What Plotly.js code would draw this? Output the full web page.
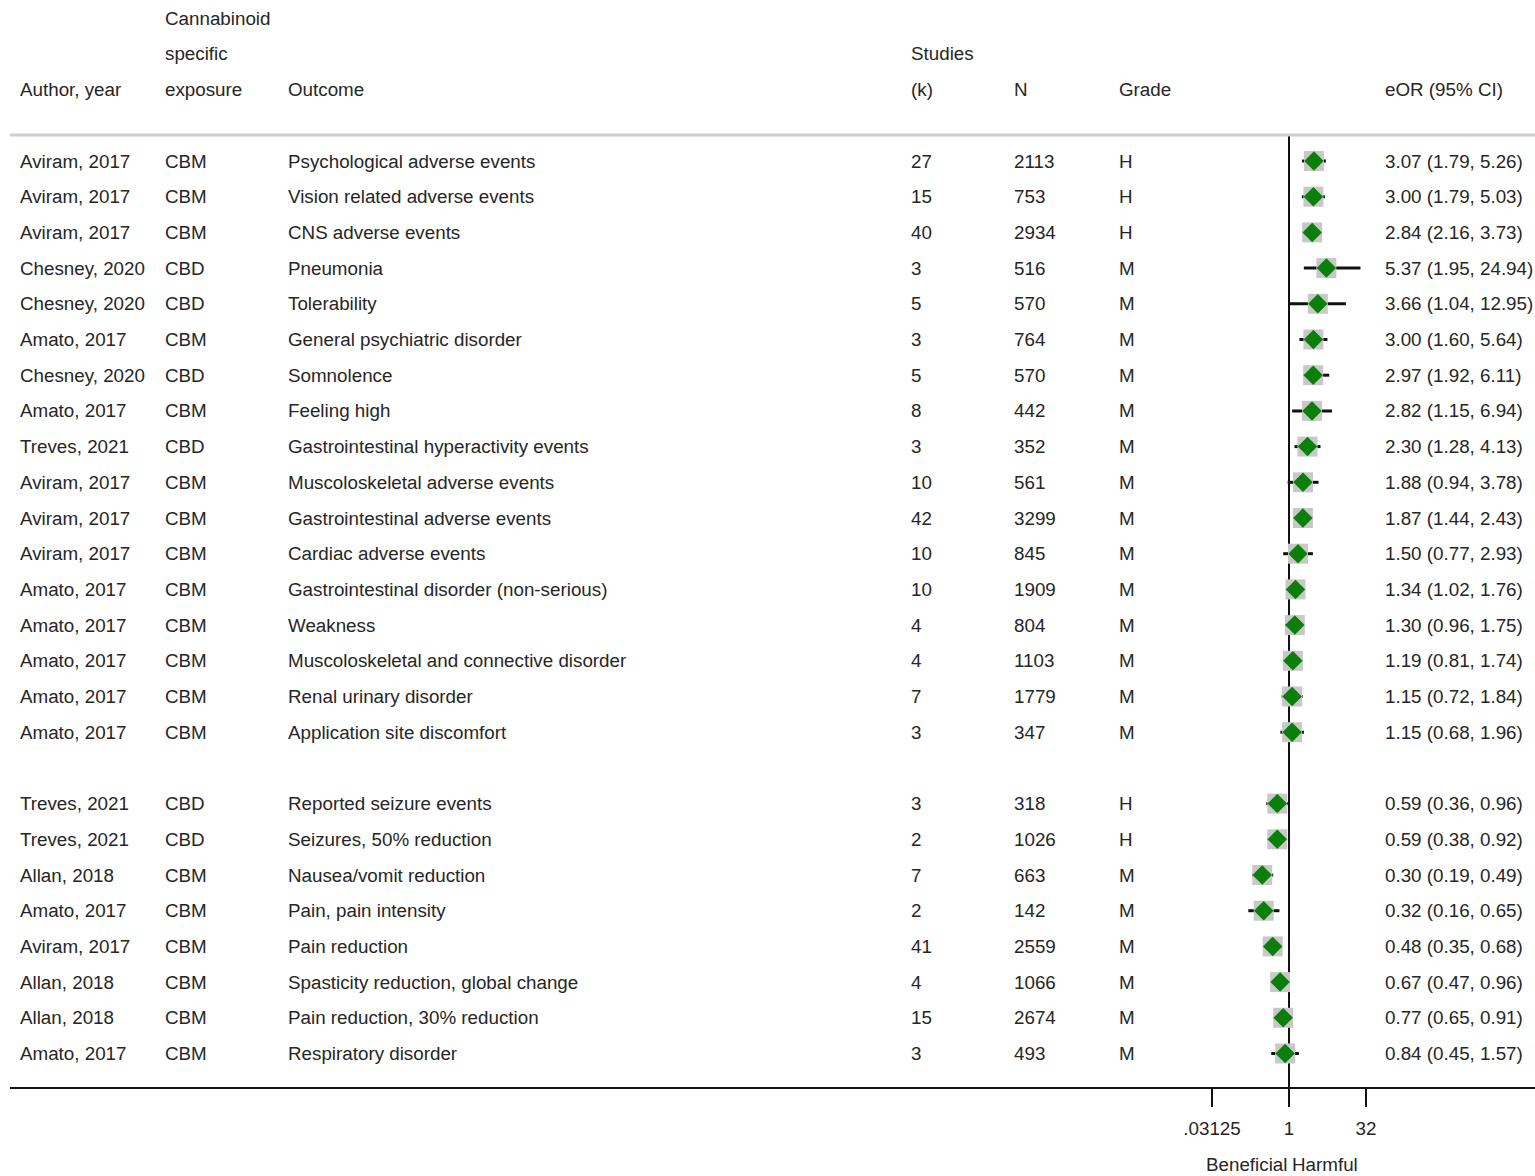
<!DOCTYPE html>
<html>
<head>
<meta charset="utf-8">
<script src="https://cdn.plot.ly/plotly-3.0.1.min.js"></script>
<style>
html,body{margin:0;padding:0;background:#fff;}
#chart{width:1535px;height:1176px;}
</style>
</head>
<body>
<div id="chart"></div>
<script>
// ---- data ----
const authors = ["Aviram, 2017","Aviram, 2017","Aviram, 2017","Chesney, 2020","Chesney, 2020","Amato, 2017","Chesney, 2020","Amato, 2017","Treves, 2021","Aviram, 2017","Aviram, 2017","Aviram, 2017","Amato, 2017","Amato, 2017","Amato, 2017","Amato, 2017","Amato, 2017",
  "Treves, 2021","Treves, 2021","Allan, 2018","Amato, 2017","Aviram, 2017","Allan, 2018","Allan, 2018","Amato, 2017"];
const exposures = ["CBM","CBM","CBM","CBD","CBD","CBM","CBD","CBM","CBD","CBM","CBM","CBM","CBM","CBM","CBM","CBM","CBM",
  "CBD","CBD","CBM","CBM","CBM","CBM","CBM","CBM"];
const outcomes = ["Psychological adverse events","Vision related adverse events","CNS adverse events","Pneumonia","Tolerability","General psychiatric disorder","Somnolence","Feeling high","Gastrointestinal hyperactivity events","Muscoloskeletal adverse events","Gastrointestinal adverse events","Cardiac adverse events","Gastrointestinal disorder (non-serious)","Weakness","Muscoloskeletal and connective disorder","Renal urinary disorder","Application site discomfort",
  "Reported seizure events","Seizures, 50% reduction","Nausea/vomit reduction","Pain, pain intensity","Pain reduction","Spasticity reduction, global change","Pain reduction, 30% reduction","Respiratory disorder"];
const studiesK = [27,15,40,3,5,3,5,8,3,10,42,10,10,4,4,7,3, 3,2,7,2,41,4,15,3];
const sampleN = [2113,753,2934,516,570,764,570,442,352,561,3299,845,1909,804,1103,1779,347, 318,1026,663,142,2559,1066,2674,493];
const grades = ["H","H","H","M","M","M","M","M","M","M","M","M","M","M","M","M","M", "H","H","M","M","M","M","M","M"];
const eOR   = [3.07,3.00,2.84,5.37,3.66,3.00,2.97,2.82,2.30,1.88,1.87,1.50,1.34,1.30,1.19,1.15,1.15, 0.59,0.59,0.30,0.32,0.48,0.67,0.77,0.84];
const ciLow = [1.79,1.79,2.16,1.95,1.04,1.60,1.92,1.15,1.28,0.94,1.44,0.77,1.02,0.96,0.81,0.72,0.68, 0.36,0.38,0.19,0.16,0.35,0.47,0.65,0.45];
const ciHigh= [5.26,5.03,3.73,24.94,12.95,5.64,6.11,6.94,4.13,3.78,2.43,2.93,1.76,1.75,1.74,1.84,1.96, 0.96,0.92,0.49,0.65,0.68,0.96,0.91,1.57];
const groupSizes = [17, 8];   // harmful block, beneficial block (blank row between)
const tickValues = [0.03125, 1, 32];
const tickLabels = [".03125", "1", "32"];
const nullValue = 1;

// ---- layout helpers ----
const W = 1535, H = 1176;
const font = "Liberation Sans, Arial, sans-serif";
const txtColor = "#262626";
const fs = 18.8;
const px = v => v / W;

// row slots (blank slot between groups)
const slots = [];
{ let s = 0; groupSizes.forEach((g, gi) => { for (let i = 0; i < g; i++) slots.push(s++); s++; }); }
const lastSlot = slots[slots.length - 1];
const topRule = -0.73, axisSlot = lastSlot + 0.97;

const fmt = v => v.toFixed(2);
const eorText = eOR.map((v, i) => fmt(v) + " (" + fmt(ciLow[i]) + ", " + fmt(ciHigh[i]) + ")");

const cols = [
  {x: 20,   vals: authors},
  {x: 165,  vals: exposures},
  {x: 288,  vals: outcomes},
  {x: 911,  vals: studiesK.map(String)},
  {x: 1014, vals: sampleN.map(String)},
  {x: 1119, vals: grades},
  {x: 1385, vals: eorText}
];
const headers = [
  {x: 20,   y: -2, t: "Author, year"},
  {x: 165,  y: -4, t: "Cannabinoid"},
  {x: 165,  y: -3, t: "specific"},
  {x: 165,  y: -2, t: "exposure"},
  {x: 288,  y: -2, t: "Outcome"},
  {x: 911,  y: -3, t: "Studies"},
  {x: 911,  y: -2, t: "(k)"},
  {x: 1014, y: -2, t: "N"},
  {x: 1119, y: -2, t: "Grade"},
  {x: 1385, y: -2, t: "eOR (95% CI)"}
];

const annotations = [];
const ann = (x, y, t, anchor) => ({
  xref: "paper", yref: "y", x: px(x), y: y, text: t, showarrow: false,
  xanchor: anchor, yanchor: "middle", xshift: anchor === "left" ? -2 : 2,
  font: {family: font, size: fs, color: txtColor}
});
cols.forEach(c => c.vals.forEach((v, i) => annotations.push(ann(c.x, slots[i], v, "left"))));
headers.forEach(h => annotations.push(ann(h.x, h.y, h.t, "left")));
annotations.push(ann(1287, lastSlot + 3.12, "Beneficial", "right"));
annotations.push(ann(1292, lastSlot + 3.12, "Harmful", "left"));

// axis geometry: px per decade
const x1px = 1289, pxPerDec = 51.16;
const xDomL = 10;
const rowPx0 = 161, rowH = 35.7;
const yTop = (0 - rowPx0) / rowH, yBot = (H - rowPx0) / rowH;
const axisPos = 1 - ((rowPx0 + axisSlot * rowH) / H);

const traces = [
  { // reference line at OR = 1
    type: "scatter", mode: "lines", x: [nullValue, nullValue], y: [topRule, axisSlot],
    line: {color: "#111", width: 2}, hoverinfo: "skip", showlegend: false
  },
  { // confidence intervals
    type: "scatter", mode: "markers", x: eOR, y: slots,
    marker: {size: 1, opacity: 0},
    error_x: {type: "data", symmetric: false,
      array: eOR.map((v, i) => ciHigh[i] - v),
      arrayminus: eOR.map((v, i) => v - ciLow[i]),
      color: "#111", thickness: 3, width: 0},
    hoverinfo: "skip", showlegend: false
  },
  { // weight boxes
    type: "scatter", mode: "markers", x: eOR, y: slots,
    marker: {symbol: "square", size: 20, color: "#c8c8c8"},
    hoverinfo: "skip", showlegend: false
  },
  { // point estimates
    type: "scatter", mode: "markers", x: eOR, y: slots,
    marker: {symbol: "diamond", size: 15, color: "#0a7f0a"},
    text: eorText, hoverinfo: "text", showlegend: false
  }
];

const layout = {
  width: W, height: H,
  margin: {l: 0, r: 0, t: 0, b: 0, pad: 0},
  paper_bgcolor: "#fff", plot_bgcolor: "#fff",
  showlegend: false,
  xaxis: {
    type: "log", domain: [px(xDomL), 1],
    range: [(xDomL - x1px) / pxPerDec, (W - x1px) / pxPerDec],
    anchor: "free", position: axisPos,
    showline: true, linecolor: "#111", linewidth: 2,
    ticks: "outside", ticklen: 18, tickwidth: 2, tickcolor: "#111",
    ticklabelstandoff: 5,
    tickmode: "array", tickvals: tickValues, ticktext: tickLabels,
    tickfont: {family: font, size: fs, color: txtColor},
    showgrid: false, zeroline: false, fixedrange: true
  },
  yaxis: {
    range: [yBot, yTop], domain: [0, 1],
    visible: false, showgrid: false, zeroline: false, fixedrange: true
  },
  shapes: [
    {type: "line", xref: "paper", yref: "y", x0: px(10), x1: 1, y0: topRule, y1: topRule,
     line: {color: "#cfcfcf", width: 3}}
  ],
  annotations: annotations
};

Plotly.newPlot("chart", traces, layout, {displayModeBar: false, staticPlot: true});
</script>
</body>
</html>
